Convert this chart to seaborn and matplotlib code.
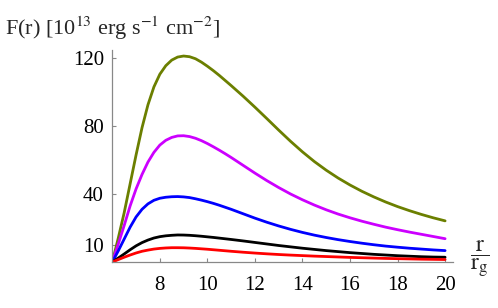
import matplotlib
matplotlib.use("Agg")
import matplotlib.pyplot as plt
import seaborn as sns
import pandas as pd

r = [6, 6.25, 6.5, 6.75, 7, 7.25, 7.5, 7.75, 8, 8.25, 8.5, 8.75, 9, 9.25, 9.5, 9.75,
     10, 10.25, 10.5, 10.75, 11, 11.5, 12, 12.5, 13, 13.5, 14, 14.5, 15, 15.5, 16,
     16.5, 17, 17.5, 18, 18.5, 19, 19.5, 20]

olive = [0, 14, 29, 46, 63, 79, 92.5, 103, 110.5, 115.5, 118.8, 120.6, 121.2, 120.8,
         119.6, 117.6, 115.2, 112.6, 109.8, 106.8, 103.8, 97.6, 91.1, 84.4, 77.6, 71.0,
         64.8, 59.1, 54.0, 49.4, 45.3, 41.6, 38.3, 35.3, 32.6, 30.2, 28.0, 26.0, 24.2]
magenta = [0, 10.5, 21.5, 33, 43, 51.5, 58.8, 64.5, 68.8, 71.6, 73.3, 74.2, 74.3, 73.8,
           72.8, 71.4, 69.7, 67.8, 65.8, 63.7, 61.5, 56.9, 52.3, 47.9, 43.8, 40.0,
           36.6, 33.5, 30.7, 28.2, 26.0, 24.0, 22.2, 20.5, 19.0, 17.6, 16.3, 15.0, 13.7]
blue = [0, 6.5, 13.5, 20.5, 26.5, 31, 34.2, 36.3, 37.5, 38.1, 38.4, 38.5, 38.3, 37.9,
        37.2, 36.4, 35.5, 34.5, 33.4, 32.2, 31, 28.4, 25.8, 23.4, 21.2, 19.2, 17.4,
        15.8, 14.4, 13.15, 12.05, 11.05, 10.15, 9.35, 8.7, 8.1, 7.6, 7.1, 6.7]
black = [0, 2.3, 4.7, 7.2, 9.5, 11.4, 12.9, 14.1, 14.9, 15.4, 15.7, 15.9, 15.85, 15.7,
         15.45, 15.15, 14.8, 14.45, 14.05, 13.65, 13.25, 12.4, 11.5, 10.6, 9.7, 8.9,
         8.1, 7.4, 6.7, 6.1, 5.5, 5.0, 4.5, 4.1, 3.7, 3.4, 3.1, 2.9, 2.8]
red = [0, 1.4, 2.8, 4.1, 5.3, 6.3, 7.0, 7.6, 8.0, 8.25, 8.4, 8.4, 8.35, 8.2, 8.0, 7.75,
       7.5, 7.2, 6.9, 6.6, 6.3, 5.75, 5.25, 4.8, 4.4, 4.05, 3.75, 3.45, 3.2, 2.95, 2.7,
       2.5, 2.3, 2.1, 1.95, 1.8, 1.65, 1.55, 1.45]

series_names = ["olive", "magenta", "blue", "black", "red"]
series_vals = [olive, magenta, blue, black, red]
colors = ["#6b7f00", "#cc00ff", "#0000ff", "#000000", "#ff0000"]

yticks = [10, 40, 80, 120]
xticks = [8, 10, 12, 14, 16, 18, 20]

df = pd.concat([pd.DataFrame({"r": r, "F": v, "s": n})
                for n, v in zip(series_names, series_vals)], ignore_index=True)

sns.set_style("ticks")
plt.rcParams["font.family"] = ["Liberation Serif", "DejaVu Serif"]
plt.rcParams["mathtext.fontset"] = "stix"

fig = plt.figure(figsize=(4.98, 3.08), dpi=100)
ax = fig.add_axes([0.2255, 0.1494, 0.685, 0.688])

sns.lineplot(data=df, x="r", y="F", hue="s", palette=dict(zip(series_names, colors)),
             hue_order=series_names, linewidth=2.0, legend=False, ax=ax,
             estimator=None, sort=False)

ax.set_xlim(6, 20.35)
ax.set_ylim(0, 124.7)
ax.set_xticks(xticks)
ax.set_yticks(yticks)
ax.set_xlabel("")
ax.set_ylabel("")
for s in ["top", "right"]:
    ax.spines[s].set_visible(False)
for s in ["left", "bottom"]:
    ax.spines[s].set_color("#888888")
    ax.spines[s].set_linewidth(0.9)
ax.tick_params(direction="in", length=3, width=0.8, color="#888888",
               labelsize=15, labelcolor="black")
ax.tick_params(axis="y", pad=6)
ax.tick_params(axis="x", pad=10)

fig.text(0.01, 1 - 35 / 308, r"F(r) [10$^{13}$ erg s$^{-1}$ cm$^{-2}$]",
         fontsize=16, ha="left", va="baseline")
fig.text(480 / 498, 1 - 259 / 308, r"$\dfrac{\mathrm{r}}{\mathrm{r_g}}$",
         fontsize=17, ha="center", va="center")

fig.savefig("out.png", dpi=100)
